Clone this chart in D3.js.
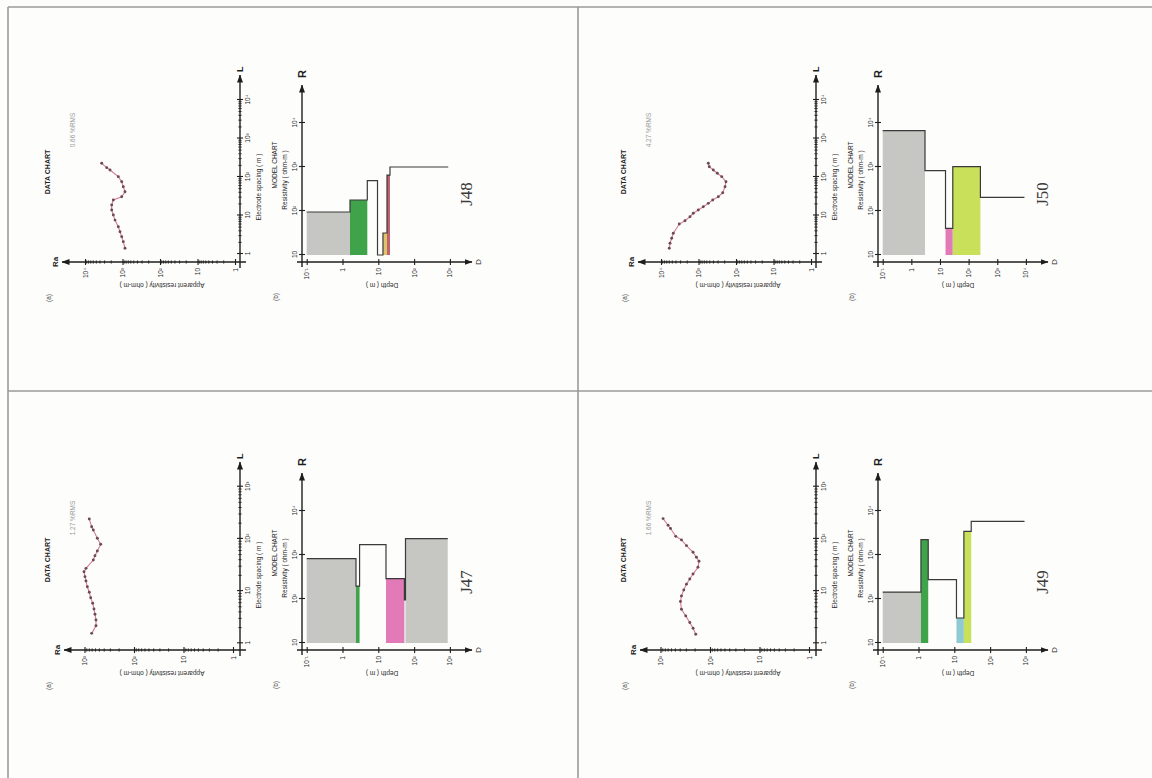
<!DOCTYPE html>
<html>
<head>
<meta charset="utf-8">
<script src="https://cdn.jsdelivr.net/npm/d3@7"></script>
<style>
  html, body { margin: 0; padding: 0; background: #fdfdfc; }
  svg { display: block; font-family: "Liberation Sans", Arial, sans-serif; }
</style>
</head>
<body>
<script>
// ---------------------------------------------------------------
// Vertical electrical soundings J47–J50: field curves and layered models
// ---------------------------------------------------------------

// Half electrode spacing AB/2 (m) and apparent resistivity (ohm-m)
const j48Spacing = [1.41, 2.09, 2.81, 3.8, 5.1, 7.6, 10.3, 13.9, 18.7, 25.3, 30.8, 41.5, 56, 75.5, 102, 152, 175, 227];
const j48Rho     = [858, 953, 1050, 1166, 1294, 1585, 1758, 1941, 1941, 1758, 1050, 858, 953, 1050, 1294, 2154, 2637, 3586];

const j50Spacing = [1.41, 1.9, 2.56, 3.45, 6.0, 7.3, 9.3, 11.4, 13.9, 16.9, 20.7, 25.3, 30.8, 39.1, 56, 75.5, 102, 125, 152, 185, 227];
const j50Rho     = [6011, 5754, 5188, 4699, 3251, 2291, 1686, 1377, 1012, 745, 548, 418, 296, 226, 196, 185, 240, 315, 403, 515, 548];

const j47Spacing = [1.55, 2.17, 2.79, 3.59, 4.54, 5.84, 7.48, 9.5, 12.1, 15.6, 18.9, 23.5, 27.3, 39.4, 47.7, 58.7, 78.8, 103, 148, 171, 240];
const j47Rho     = [716, 586, 586, 614, 643, 683, 750, 800, 877, 933, 977, 1023, 933, 664, 614, 551, 471, 551, 664, 716, 800];

const j49Spacing = [1.49, 1.94, 2.5, 3.35, 4.5, 6.3, 8.1, 10.5, 13.6, 17, 21.2, 28.6, 37.3, 44.5, 55.5, 74.3, 95.7, 112, 158, 183, 245];
const j49Rho     = [194, 220, 256, 309, 377, 395, 377, 339, 299, 256, 220, 175, 167, 188, 220, 299, 377, 492, 628, 703, 887];

// Layer models: resistivity (ohm-m) and depth to the base of each layer (m)
const j48LayerRho  = [95, 178, 489, 10, 31.6, 657, 1000];
const j48LayerBase = [1.62, 4.93, 9.5, 13.5, 17.5, 21.2, 900];

const j50LayerRho  = [6683, 824, 40.4, 1016, 205];
const j50LayerBase = [3.0, 15.6, 28, 258, 8900];

const j47LayerRho  = [824, 197, 1714, 289, 96, 2344];
const j47LayerBase = [2.38, 3.0, 16.4, 53.6, 57.5, 871];

const j49LayerRho  = [144, 2228, 275, 37, 3460, 5834];
const j49LayerBase = [1.17, 1.87, 11.5, 18.5, 29.7, 914];

// Tick values
const spacingTicksLong  = [1, 10, 100, 1000, 10000];
const spacingTicksShort = [1, 10, 100, 1000];
const appResTicksLong   = [1, 10, 100, 1000, 10000];
const appResTicksShort  = [1, 10, 100, 1000];
const modelResTicks     = [10, 100, 1000, 10000];
const depthTicks        = [0.1, 1, 10, 100, 1000];
const depthTicksDeep    = [0.1, 1, 10, 100, 1000, 10000];

// Fit-error notes printed under each data chart
const fitNotes = { J48: "0.66 %RMS", J50: "4.27 %RMS", J47: "1.27 %RMS", J49: "1.66 %RMS" };

// ---------------------------------------------------------------
const tints = {
  grey: "#c6c6c2",
  green: "#3fa34a",
  yellow: "#dcc46a",
  red: "#c46070",
  pink: "#e27ab8",
  lime: "#c9e05a",
  teal: "#8fcad2"
};

const W = 1152, H = 778;
const svg = d3.select("body").append("svg").attr("width", W).attr("height", H);
svg.append("rect").attr("width", W).attr("height", H).attr("fill", "#fdfdfc");

const defs = svg.append("defs");
defs.append("marker")
  .attr("id", "arrow")
  .attr("viewBox", "0 0 8 6")
  .attr("refX", 7.5).attr("refY", 3)
  .attr("markerWidth", 8).attr("markerHeight", 6)
  .attr("markerUnits", "userSpaceOnUse")
  .attr("orient", "auto")
  .append("path").attr("d", "M0,0L8,3L0,6Z").attr("fill", "#1e1e1e");

// page frame lines
const frame = svg.append("g").attr("stroke", "#9a9a9a").attr("stroke-width", 1.6);
frame.append("line").attr("x1", 8).attr("y1", 7).attr("x2", W).attr("y2", 7);
frame.append("line").attr("x1", 8).attr("y1", 7).attr("x2", 8).attr("y2", H);
frame.append("line").attr("x1", 578).attr("y1", 7).attr("x2", 578).attr("y2", H);
frame.append("line").attr("x1", 8).attr("y1", 391).attr("x2", W).attr("y2", 391);

const sup = { "-": "\u207B", "0": "\u2070", "1": "\u00B9", "2": "\u00B2", "3": "\u00B3", "4": "\u2074", "5": "\u2075" };
function powLabel(v) {
  const e = Math.round(Math.log10(v));
  if (e === 0) return "1";
  if (e === 1) return "10";
  return "10" + String(e).split("").map(c => sup[c]).join("");
}

function minorValues(domain) {
  const out = [];
  const lo = Math.log10(domain[0]), hi = Math.log10(domain[1]);
  for (let e = Math.floor(lo); e < hi; e++) {
    for (let k = 2; k <= 9; k++) {
      const v = k * Math.pow(10, e);
      if (v > domain[0] && v < domain[1]) out.push(v);
    }
  }
  return out;
}

const INK = "#1e1e1e";

function styleAxis(sel, size) {
  sel.select(".domain").remove();
  sel.attr("font-family", null).attr("font-size", null);
  sel.selectAll(".tick line").attr("stroke", INK).attr("stroke-width", 1.1);
  sel.selectAll(".tick text").attr("fill", "#2a2a2a").style("font-size", size + "px");
}

// ---- data chart (drawn in its own frame, then turned a quarter) ----
function drawDataChart(g, cfg) {
  const L = d3.scaleLog().domain(cfg.lDomain).range(cfg.lRange);
  const A = d3.scaleLog().domain(cfg.aDomain).range(cfg.aRange);

  // axis lines with arrow heads
  g.append("line").attr("x1", -6).attr("y1", 0).attr("x2", cfg.lEnd).attr("y2", 0)
    .attr("stroke", INK).attr("stroke-width", 1.4).attr("marker-end", "url(#arrow)");
  g.append("line").attr("x1", 0).attr("y1", 6).attr("x2", 0).attr("y2", cfg.aEnd)
    .attr("stroke", INK).attr("stroke-width", 1.4).attr("marker-end", "url(#arrow)");

  // minor ticks
  g.append("g").selectAll("line").data(minorValues(cfg.lDomain)).join("line")
    .attr("x1", d => L(d)).attr("x2", d => L(d)).attr("y1", -1.6).attr("y2", 1.6)
    .attr("stroke", INK).attr("stroke-width", 0.9);
  g.append("g").selectAll("line").data(minorValues(cfg.aDomain)).join("line")
    .attr("y1", d => A(d)).attr("y2", d => A(d)).attr("x1", -1.6).attr("x2", 1.6)
    .attr("stroke", INK).attr("stroke-width", 0.9);

  const ax = g.append("g").call(d3.axisBottom(L).tickValues(cfg.lTicks).tickFormat(powLabel).tickSize(3).tickPadding(2));
  styleAxis(ax, 6.5);
  ax.selectAll(".tick line").attr("y1", -3);
  const ay = g.append("g").call(d3.axisLeft(A).tickValues(cfg.aTicks).tickFormat(powLabel).tickSize(3).tickPadding(3));
  styleAxis(ay, 6.5);
  ay.selectAll(".tick line").attr("x1", 3);

  // sounding curve
  const pts = cfg.spacing.map((s, i) => [L(s), A(cfg.rho[i])]);
  g.append("path").attr("d", d3.line()(pts)).attr("fill", "none")
    .attr("stroke", "#d67c94").attr("stroke-width", 1.1);
  g.append("g").selectAll("circle").data(pts).join("circle")
    .attr("cx", d => d[0]).attr("cy", d => d[1]).attr("r", 1.45)
    .attr("fill", "#6a4a58");

  // titles
  g.append("text").attr("x", (cfg.lRange[0] + cfg.lRange[1]) / 2 - 10).attr("y", 21)
    .attr("text-anchor", "middle").style("font-size", "6.5px").attr("fill", "#2a2a2a")
    .text("Electrode spacing  ( m )");
  g.append("text")
    .attr("transform", `translate(-21,${-78}) rotate(-90)`)
    .attr("text-anchor", "middle").style("font-size", "6.5px").attr("fill", "#2a2a2a")
    .text("Apparent resistivity  ( ohm-m )");
  g.append("text").attr("x", 0).attr("y", cfg.aEnd - 4).attr("text-anchor", "middle")
    .style("font-size", "8px").style("font-weight", "bold").attr("fill", INK).text("Ra");
  g.append("text").attr("x", cfg.lEnd + 3).attr("y", 3).attr("text-anchor", "start")
    .style("font-size", "9px").style("font-weight", "bold").attr("fill", INK).text("L");
  g.append("text").attr("x", 90).attr("y", -190).attr("text-anchor", "middle")
    .style("font-size", "7px").style("font-weight", "bold").attr("fill", "#222").text("DATA CHART");
  g.append("text").attr("x", 132).attr("y", -165).attr("text-anchor", "middle")
    .style("font-size", "6.5px").attr("fill", "#9a9a9a").text(cfg.note);
  g.append("text").attr("x", -36).attr("y", -189).attr("text-anchor", "middle")
    .style("font-size", "6.5px").attr("fill", "#444").text("(a)");
}

// ---- model chart ----
function drawModelChart(g, cfg) {
  const R = d3.scaleLog().domain([10, 10000]).range([7, 139]);
  const D = d3.scaleLog().domain(cfg.dDomain).range(cfg.dRange);

  // layer fills (from the lowest resistivity tick up to the layer value)
  let top = cfg.dDomain[0];
  const layers = cfg.layerRho.map((r, i) => {
    const l = { rho: r, top: top, base: cfg.layerBase[i], tint: cfg.tints[i] };
    top = cfg.layerBase[i];
    return l;
  });
  g.append("g").selectAll("rect").data(layers.filter(l => l.tint)).join("rect")
    .attr("x", R(10)).attr("y", d => D(d.top))
    .attr("width", d => Math.max(0, R(d.rho) - R(10)))
    .attr("height", d => D(d.base) - D(d.top))
    .attr("fill", d => tints[d.tint]);

  // step curve of the model
  const step = [];
  layers.forEach(l => { step.push([R(l.rho), D(l.top)]); step.push([R(l.rho), D(l.base)]); });
  g.append("path").attr("d", d3.line()(step)).attr("fill", "none")
    .attr("stroke", "#3a3a3a").attr("stroke-width", 1.2);

  // axes
  g.append("line").attr("x1", -5).attr("y1", 0).attr("x2", 177).attr("y2", 0)
    .attr("stroke", INK).attr("stroke-width", 1.4).attr("marker-end", "url(#arrow)");
  g.append("line").attr("x1", 0).attr("y1", -5).attr("x2", 0).attr("y2", cfg.dEnd)
    .attr("stroke", INK).attr("stroke-width", 1.4).attr("marker-end", "url(#arrow)");

  const ar = g.append("g").call(d3.axisTop(R).tickValues(modelResTicks).tickFormat(powLabel).tickSize(3).tickPadding(2));
  styleAxis(ar, 6.5);
  ar.selectAll(".tick line").attr("y1", 3);
  const ad = g.append("g").call(d3.axisLeft(D).tickValues(cfg.dTicks).tickFormat(powLabel).tickSize(3).tickPadding(3));
  styleAxis(ad, 6.5);
  ad.selectAll(".tick line").attr("x1", 3);

  g.append("text").attr("x", 184).attr("y", 4).attr("text-anchor", "start")
    .style("font-size", "11px").style("font-weight", "bold").attr("fill", INK).text("R");
  g.append("text").attr("x", 0).attr("y", cfg.dEnd + 9).attr("text-anchor", "middle")
    .style("font-size", "8px").attr("fill", INK).text("D");
  g.append("text").attr("x", 97).attr("y", -25).attr("text-anchor", "middle")
    .style("font-size", "6.5px").attr("fill", "#222").text("MODEL CHART");
  g.append("text").attr("x", 82).attr("y", -15).attr("text-anchor", "middle")
    .style("font-size", "6.5px").attr("fill", "#222").text("Resistivity  ( ohm-m )");
  g.append("text")
    .attr("transform", `translate(-21,80) rotate(-90)`)
    .attr("text-anchor", "middle").style("font-size", "6.5px").attr("fill", "#2a2a2a")
    .text("Depth  ( m )");
  g.append("text").attr("x", -35).attr("y", -24).attr("text-anchor", "middle")
    .style("font-size", "6.5px").attr("fill", "#444").text("(b)");
}

// ---- sheet layout ----
const wideData = {
  lDomain: [1, 10000], lRange: [8, 162], lTicks: spacingTicksLong, lEnd: 187,
  aDomain: [1, 10000], aRange: [-5, -155], aTicks: appResTicksLong, aEnd: -178
};
const shortData = {
  lDomain: [1, 1000], lRange: [6.7, 163.3], lTicks: spacingTicksShort, lEnd: 188,
  aDomain: [1, 1000], aRange: [-7, -155.5], aTicks: appResTicksShort, aEnd: -176
};

const sheets = [
  { id: "J48", dx: 0, dy: 0, data: wideData, spacing: j48Spacing, rho: j48Rho,
    layerRho: j48LayerRho, layerBase: j48LayerBase,
    tints: ["grey", "green", null, null, "yellow", "red", null],
    dDomain: [0.1, 1000], dRange: [4.7, 147.9], dTicks: depthTicks },
  { id: "J50", dx: 576, dy: 0, data: wideData, spacing: j50Spacing, rho: j50Rho,
    layerRho: j50LayerRho, layerBase: j50LayerBase,
    tints: ["grey", null, "pink", "lime", null],
    dDomain: [0.1, 10000], dRange: [4.7, 147.9], dTicks: depthTicksDeep },
  { id: "J47", dx: 0, dy: 388, data: shortData, spacing: j47Spacing, rho: j47Rho,
    layerRho: j47LayerRho, layerBase: j47LayerBase,
    tints: ["grey", "green", null, "pink", null, "grey"],
    dDomain: [0.1, 1000], dRange: [4.7, 147.9], dTicks: depthTicks },
  { id: "J49", dx: 576, dy: 388, data: shortData, spacing: j49Spacing, rho: j49Rho,
    layerRho: j49LayerRho, layerBase: j49LayerBase,
    tints: ["grey", "green", null, "teal", "lime", null],
    dDomain: [0.1, 1000], dRange: [4.7, 147.9], dTicks: depthTicks }
];

sheets.forEach(s => {
  const page = svg.append("g").attr("transform", `translate(${s.dx},${s.dy})`);
  const dataG = page.append("g").attr("transform", "translate(240,262) rotate(-90)");
  drawDataChart(dataG, Object.assign({}, s.data, { spacing: s.spacing, rho: s.rho, note: fitNotes[s.id] }));
  const modelG = page.append("g").attr("transform", "translate(302,262) rotate(-90)");
  drawModelChart(modelG, Object.assign({}, s, { dEnd: 170 }));
  page.append("text").attr("transform", "translate(472,194) rotate(-90)")
    .attr("text-anchor", "middle")
    .style("font-family", "'Liberation Serif', 'DejaVu Serif', serif")
    .style("font-size", "17px").attr("fill", "#3a3a3a").text(s.id);
});
</script>
</body>
</html>
